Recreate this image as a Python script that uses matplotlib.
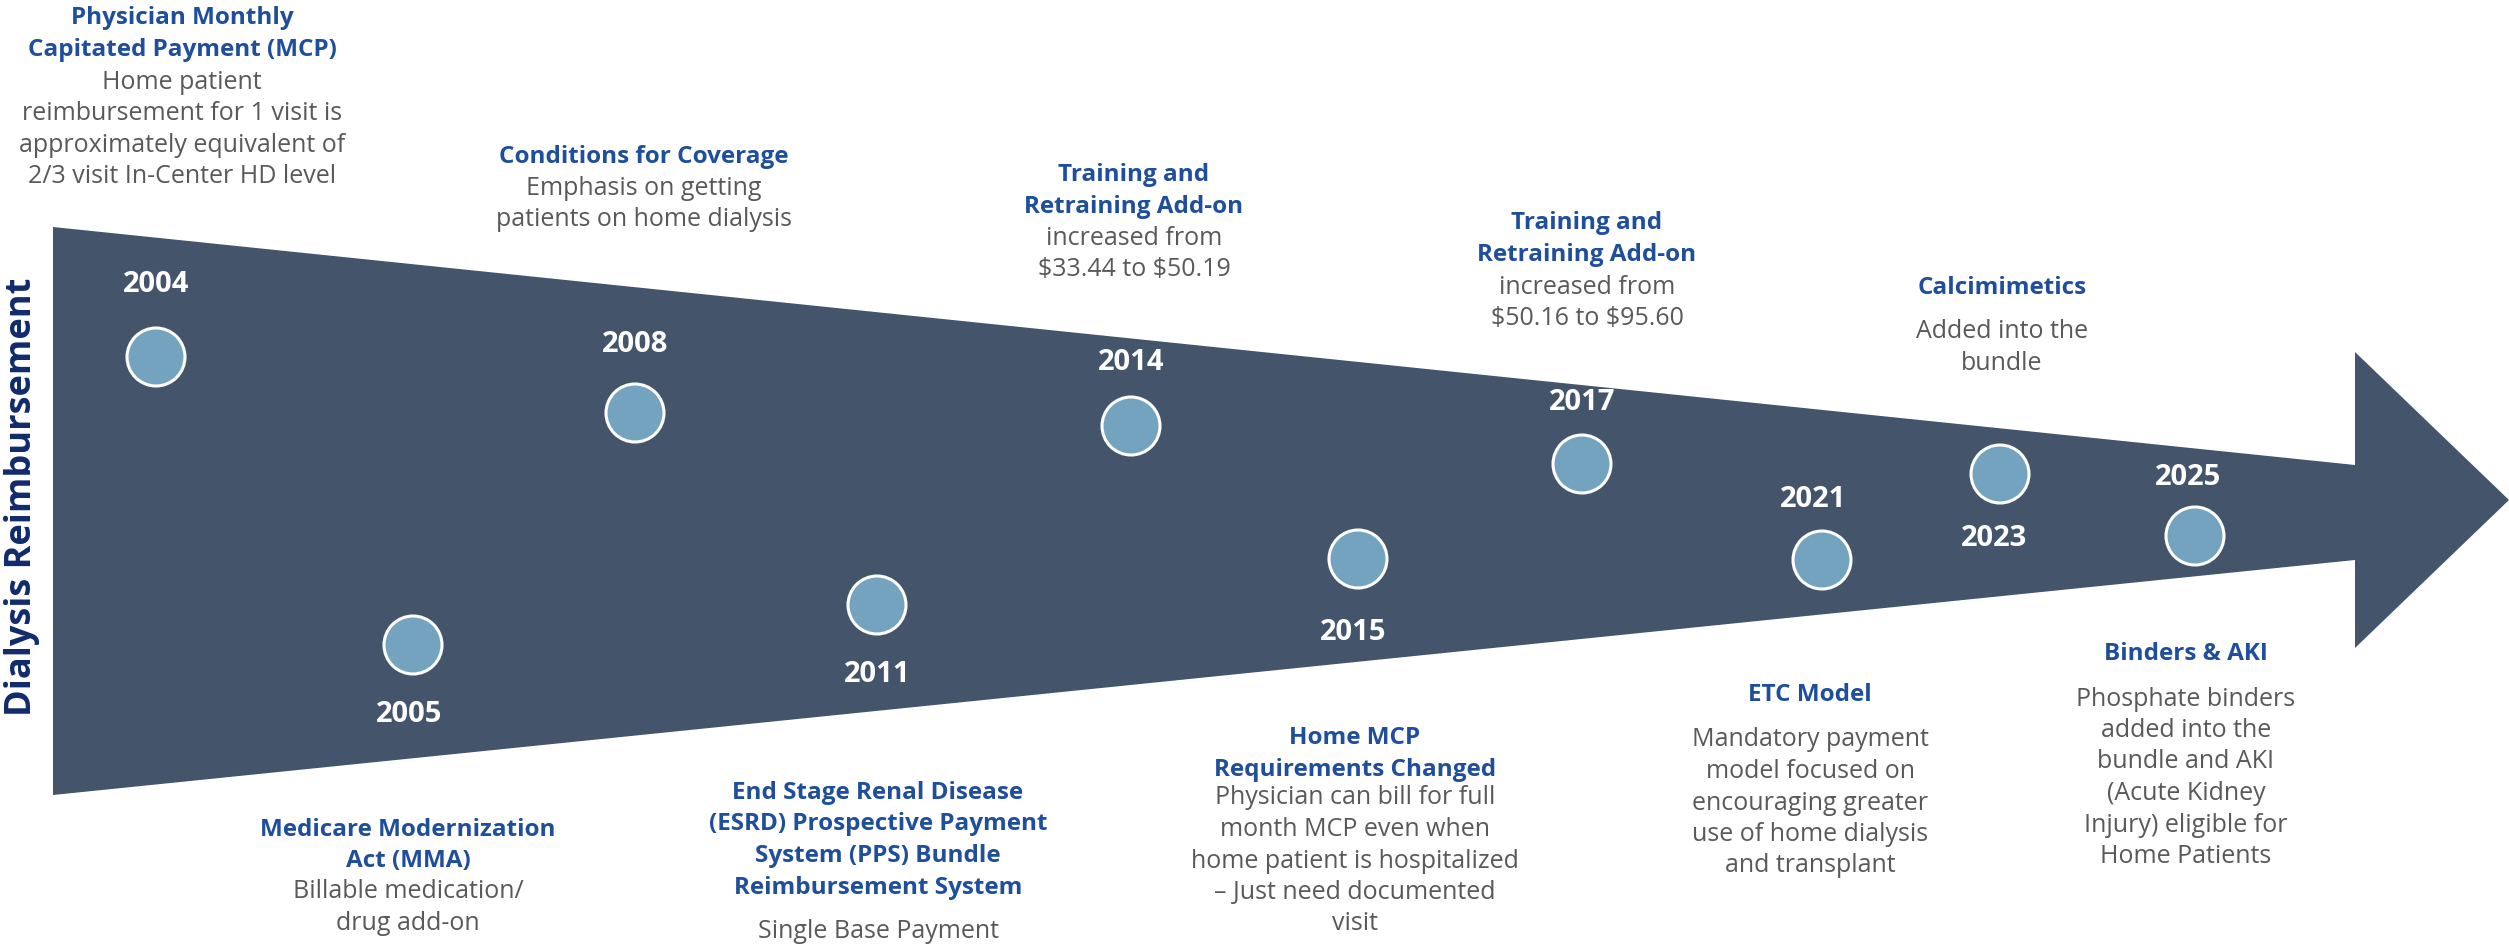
import matplotlib.pyplot as plt
from matplotlib.patches import Polygon, Circle

# timeline data
years = ["2004", "2005", "2008", "2011", "2014", "2015", "2017", "2021", "2023", "2025"]

titles = [
    ["Physician Monthly", "Capitated Payment (MCP)"],
    ["Medicare Modernization", "Act (MMA)"],
    ["Conditions for Coverage"],
    ["End Stage Renal Disease", "(ESRD) Prospective Payment", "System (PPS) Bundle", "Reimbursement System"],
    ["Training and", "Retraining Add-on"],
    ["Home MCP", "Requirements Changed"],
    ["Training and", "Retraining Add-on"],
    ["ETC Model"],
    ["Calcimimetics"],
    ["Binders & AKI"],
]
bodies = [
    ["Home patient", "reimbursement for 1 visit is", "approximately equivalent of", "2/3 visit In-Center HD level"],
    ["Billable medication/", "drug add-on"],
    ["Emphasis on getting", "patients on home dialysis"],
    ["Single Base Payment"],
    ["increased from", "$33.44 to $50.19"],
    ["Physician can bill for full", "month MCP even when", "home patient is hospitalized",
     "\u2013 Just need documented", "visit"],
    ["increased from", "$50.16 to $95.60"],
    ["Mandatory payment", "model focused on", "encouraging greater", "use of home dialysis", "and transplant"],
    ["Added into the", "bundle"],
    ["Phosphate binders", "added into the", "bundle and AKI", "(Acute Kidney", "Injury) eligible for", "Home Patients"],
]

# layout in pixels (figure is 2509 x 948, y downwards)
dot_x = [156, 413, 635, 877, 1131, 1358, 1582, 1822, 2000, 2195]
dot_y = [357, 645, 413, 605, 426, 559, 464, 560, 474, 536]
year_x = [156, 409, 635, 877, 1131, 1353, 1582, 1813, 1994, 2188]
year_y = [285, 715, 344, 675, 362, 633, 403, 499, 539, 477]
block_x = [182, 408, 644, 878, 1134, 1355, 1587, 1810, 2002, 2186]
title_y = [18, 830, 157, 793, 175, 738, 223, 695, 288, 654]
body_y = [82, 892, 188, 932, 238, 798, 287, 740, 332, 699]
step = 31.5

arrow_xy = [(53, 227), (2355, 465), (2355, 352), (2509, 500),
            (2355, 648), (2355, 560), (53, 795)]

arrow_color = "#44546A"
dot_color = "#74A3C0"
title_color = "#1F4E9C"
body_color = "#595959"
font = ["Open Sans", "DejaVu Sans"]

fig = plt.figure(figsize=(25.09, 9.48), dpi=100)
ax = fig.add_axes([0, 0, 1, 1])
ax.set_xlim(0, 2509)
ax.set_ylim(948, 0)
ax.axis("off")

ax.add_patch(Polygon(arrow_xy, closed=True, facecolor=arrow_color, edgecolor="none"))

for i in range(len(years)):
    ax.add_patch(Circle((dot_x[i], dot_y[i]), 29, facecolor=dot_color,
                        edgecolor="white", linewidth=2.2, zorder=3))
    ax.text(year_x[i], year_y[i], years[i], color="white", fontsize=21,
            fontweight="bold", family=font, ha="center", va="center")
    for j, line in enumerate(titles[i]):
        ax.text(block_x[i], title_y[i] + j * step, line, color=title_color,
                fontsize=17.5, fontweight="bold", family=font,
                ha="center", va="center", parse_math=False)
    for j, line in enumerate(bodies[i]):
        ax.text(block_x[i], body_y[i] + j * step, line, color=body_color,
                fontsize=18, family=font, ha="center", va="center",
                parse_math=False)

ax.text(22, 497, "Dialysis Reimbursement", color="#102A6B", fontsize=26,
        fontweight="bold", family=font, rotation=90,
        ha="center", va="center")

fig.savefig("out.png", dpi=100)
